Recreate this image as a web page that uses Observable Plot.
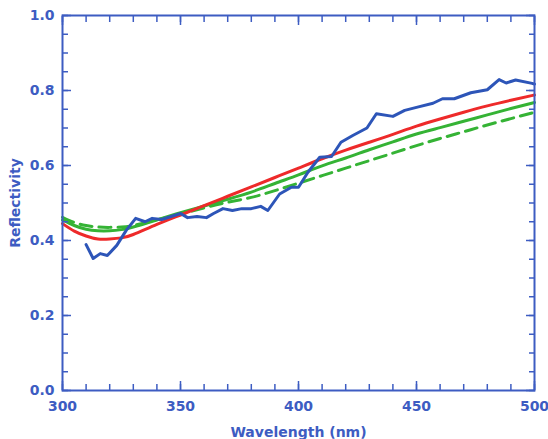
<!DOCTYPE html>
<html><head><meta charset="utf-8">
<script src="https://cdn.jsdelivr.net/npm/d3@7"></script>
<script src="https://cdn.jsdelivr.net/npm/@observablehq/plot@0.6"></script>
<style>body{margin:0;background:#fff}</style>
</head><body><div id="chart"></div>
<script>
const measWl = [310,313,316,319,323,327,331,335,338,342,346,350,353,357,361,364,368,372,376,380,384,387,392,397,400,404,409,414,418,423,429,433,440,445,450,457,461,466,473,480,485,488,492,499,500];
const measR  = [0.389,0.352,0.365,0.360,0.387,0.427,0.459,0.450,0.459,0.456,0.464,0.472,0.461,0.464,0.461,0.472,0.485,0.480,0.485,0.485,0.491,0.480,0.524,0.542,0.542,0.582,0.622,0.624,0.662,0.680,0.700,0.738,0.731,0.747,0.755,0.766,0.778,0.778,0.794,0.802,0.829,0.820,0.828,0.819,0.817];

const modelWl = [300,305,310,315,320,325,330,340,350,360,370,380,390,400,410,420,430,440,450,460,470,480,490,500];
const redR    = [0.445,0.425,0.412,0.404,0.404,0.407,0.416,0.443,0.468,0.493,0.518,0.543,0.568,0.593,0.618,0.641,0.662,0.683,0.705,0.724,0.742,0.759,0.774,0.788];
const greenR  = [0.455,0.440,0.430,0.426,0.426,0.429,0.436,0.455,0.474,0.492,0.510,0.529,0.552,0.575,0.599,0.620,0.642,0.663,0.684,0.701,0.718,0.735,0.752,0.768];
const dashR   = [0.462,0.448,0.440,0.436,0.435,0.436,0.440,0.455,0.470,0.487,0.502,0.515,0.533,0.553,0.573,0.593,0.613,0.633,0.653,0.672,0.690,0.708,0.725,0.742];

const xMajor = [300,350,400,450,500];
const xMinor = d3.range(300, 501, 10);
const yMajor = [0,0.2,0.4,0.6,0.8,1.0];
const yMinor = d3.range(0, 1.0001, 0.05);

const axisColor = "#3d5cc2";
const meas = measWl.map((w,i)=>({w, r: measR[i]}));
const red = modelWl.map((w,i)=>({w, r: redR[i]}));
const green = modelWl.map((w,i)=>({w, r: greenR[i]}));
const dash = modelWl.map((w,i)=>({w, r: dashR[i]}));
const blank = () => "";

const chart = Plot.plot({
  width: 548, height: 439,
  marginLeft: 62, marginRight: 14, marginTop: 15, marginBottom: 49,
  style: {fontFamily: "DejaVu Sans, sans-serif", fontWeight: "bold", fontSize: "14px", color: axisColor, background: "white"},
  x: {domain: [300,500]},
  y: {domain: [0,1]},
  marks: [
    Plot.line(green, {x:"w", y:"r", stroke:"#35b335", strokeWidth:3, curve:"natural"}),
    Plot.line(dash, {x:"w", y:"r", stroke:"#35b335", strokeWidth:3, strokeDasharray:"12,7", curve:"natural"}),
    Plot.line(red, {x:"w", y:"r", stroke:"#ee2a2a", strokeWidth:3, curve:"natural"}),
    Plot.line(meas, {x:"w", y:"r", stroke:"#2d55b8", strokeWidth:3, curve:"linear"}),
    Plot.frame({stroke: axisColor, strokeWidth: 2}),
    Plot.axisX({anchor:"bottom", ticks:xMajor, tickSize:0, tickPadding:11, tickFormat: d3.format("d"), label:"Wavelength (nm)", labelAnchor:"center", labelArrow:"none", labelOffset:46, fontSize:14}),
    Plot.axisX({anchor:"bottom", ticks:xMinor, tickSize:-6, tickFormat: blank, label:null, stroke:axisColor, strokeWidth:1.5}),
    Plot.axisX({anchor:"bottom", ticks:xMajor, tickSize:-9, tickFormat: blank, label:null, stroke:axisColor, strokeWidth:1.5}),
    Plot.axisX({anchor:"top", ticks:xMinor, tickSize:-6, tickFormat: blank, label:null, stroke:axisColor, strokeWidth:1.5}),
    Plot.axisX({anchor:"top", ticks:xMajor, tickSize:-9, tickFormat: blank, label:null, stroke:axisColor, strokeWidth:1.5}),
    Plot.axisY({anchor:"left", ticks:yMajor, tickSize:0, tickPadding:8, tickFormat: d3.format(".1f"), label:"Reflectivity", labelAnchor:"center", labelArrow:"none", labelOffset:52, fontSize:14}),
    Plot.axisY({anchor:"left", ticks:yMinor, tickSize:-6, tickFormat: blank, label:null, stroke:axisColor, strokeWidth:1.5}),
    Plot.axisY({anchor:"left", ticks:yMajor, tickSize:-9, tickFormat: blank, label:null, stroke:axisColor, strokeWidth:1.5}),
    Plot.axisY({anchor:"right", ticks:yMinor, tickSize:-6, tickFormat: blank, label:null, stroke:axisColor, strokeWidth:1.5}),
    Plot.axisY({anchor:"right", ticks:yMajor, tickSize:-9, tickFormat: blank, label:null, stroke:axisColor, strokeWidth:1.5})
  ]
});
document.getElementById("chart").appendChild(chart);
</script>
</body></html>
